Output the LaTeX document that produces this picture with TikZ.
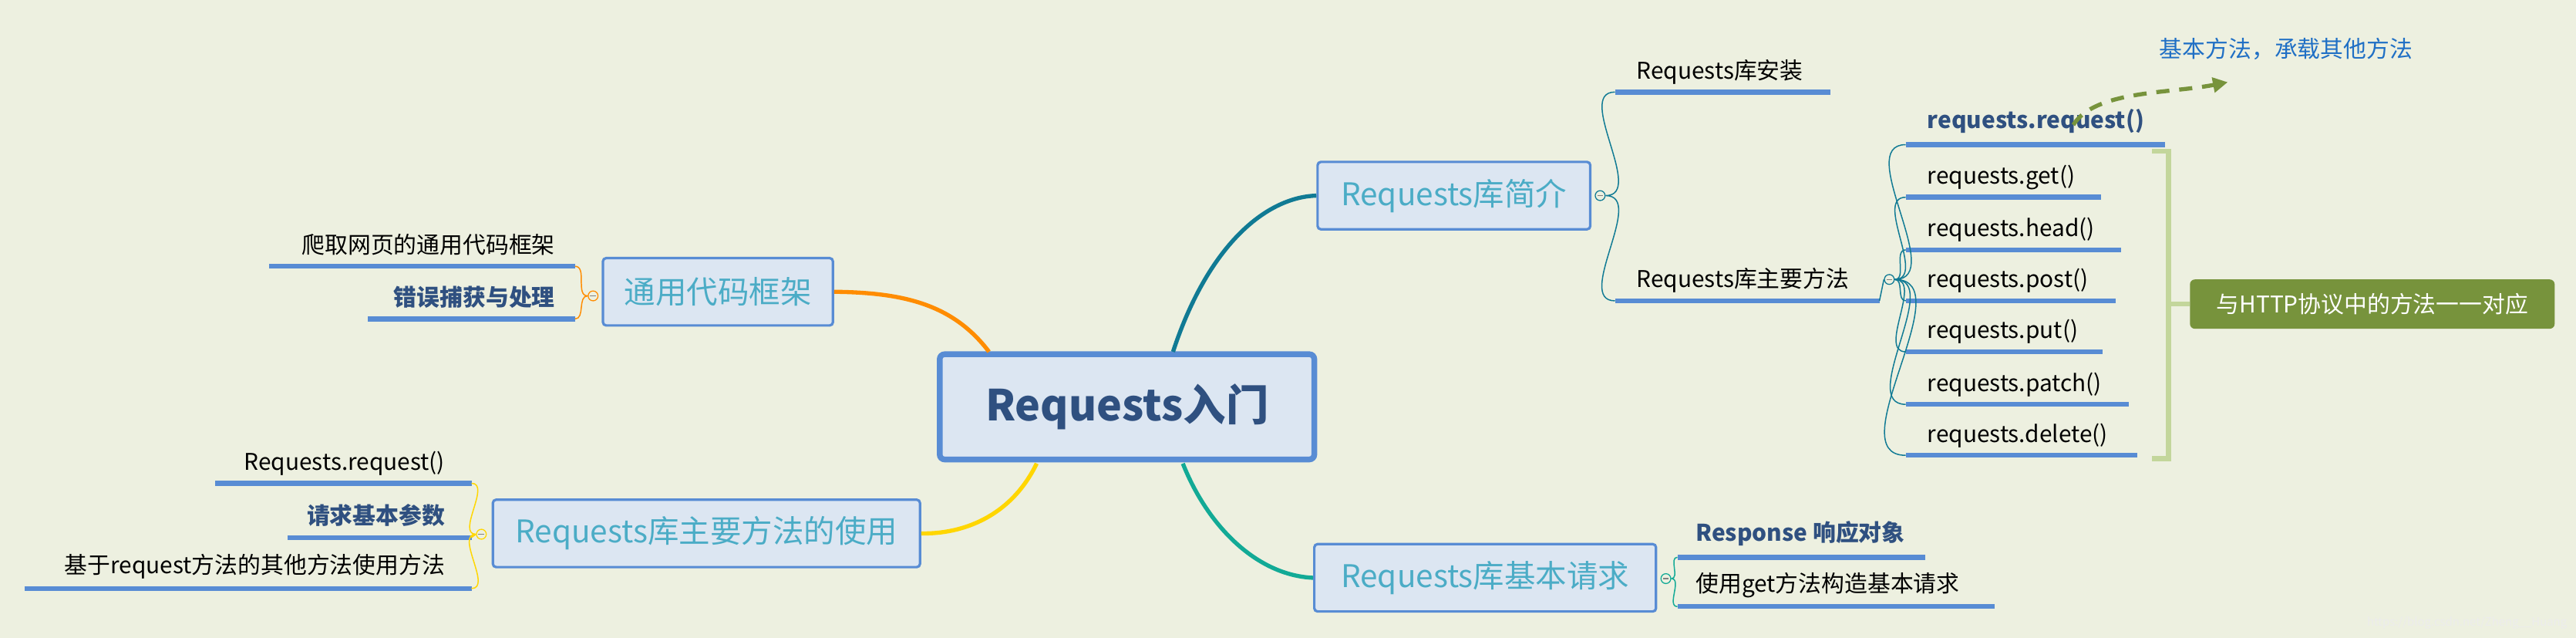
\documentclass[tikz,border=0pt]{standalone}
\usepackage{fontspec}
\setmainfont{Noto Sans CJK SC}
\usetikzlibrary{arrows.meta}
\definecolor{bg}{RGB}{237,240,224}
\definecolor{bline}{RGB}{88,140,212}
\definecolor{bfill}{RGB}{220,230,242}
\definecolor{dblue}{RGB}{47,80,128}
\definecolor{teal1}{RGB}{75,172,198}
\definecolor{cA}{RGB}{255,140,0}
\definecolor{cB}{RGB}{16,122,148}
\definecolor{cC}{RGB}{255,214,0}
\definecolor{cD}{RGB}{18,170,150}
\definecolor{gdark}{RGB}{119,147,60}
\definecolor{glight}{RGB}{195,214,155}
\definecolor{nblue}{RGB}{31,111,197}
\begin{document}
\begin{tikzpicture}[x=1pt,y=-1pt,
  center/.style={draw=bline,line width=3.5pt,fill=bfill,rounded corners=3pt,font=\fontsize{26}{30}\selectfont\bfseries,text=dblue,minimum width=228pt,minimum height=64pt},
  branch/.style={draw=bline,line width=1.5pt,fill=bfill,rounded corners=2pt,font=\fontsize{19}{22}\selectfont,text=teal1,minimum height=41pt,inner xsep=10pt},
  leaf/.style={font=\fontsize{14}{16}\selectfont,text=black,inner sep=0pt},
  bleaf/.style={leaf,font=\fontsize{14}{16}\selectfont\bfseries,text=dblue},
  ul/.style={draw=bline,line width=3pt},
  knob/.style={circle,draw,fill=bg,inner sep=0pt,minimum size=6pt,line width=0.6pt},
]
\fill[bg] (0,0) rectangle (1568,388);
\useasboundingbox (0,0) rectangle (1568,388);

% centre and branches
\node[center] (root) at (686,247.5) {Requests入门};
\node[branch,minimum width=140pt] (b1) at (437,177.5) {通用代码框架};
\node[branch,minimum width=166pt] (b2) at (885,119) {Requests库简介};
\node[branch,minimum width=260pt] (b3) at (430,324.5) {Requests库主要方法的使用};
\node[branch,minimum width=208pt] (b4) at (904,351.5) {Requests库基本请求};

\coordinate (r1) at (602,214); \coordinate (r2) at (714,214);
\coordinate (r3) at (631,282); \coordinate (r4) at (720,282);
\draw[cA,line width=2.5pt] (r1) .. controls (580,185) and (550,178) .. (b1.east);
\draw[cB,line width=2.5pt] (r2) .. controls (735,150) and (770,120) .. (b2.west);
\draw[cC,line width=2.5pt] (r3) .. controls (615,315) and (585,325) .. (b3.east);
\draw[cD,line width=2.5pt] (r4) .. controls (735,320) and (765,350) .. (b4.west);

% knobs
\node[knob,draw=cA] (k1) at (361,180) {};
\node[knob,draw=cB] (k2) at (974,119) {};
\node[knob,draw=cC] (k3) at (293,325) {};
\node[knob,draw=cD] (k4) at (1014,352) {};
\node[knob,draw=cB] (k5) at (1150,170) {};
\foreach \k in {k1,k2,k3,k4,k5}{\draw[gray,line width=0.5pt] ([xshift=-1.8pt]\k.center) -- ([xshift=1.8pt]\k.center);}

% left branch 1 leaves
\coordinate (a1l) at (164,162); \coordinate (a1r) at (350,162);
\coordinate (a2l) at (224,194); \coordinate (a2r) at (350,194);
\draw[ul] (a1l) -- (a1r); \draw[ul] (a2l) -- (a2r);
\node[leaf,anchor=base east] (ta1) at (338,154) {爬取网页的通用代码框架};
\node[bleaf,anchor=base east] (ta2) at (338,186) {错误捕获与处理};
\draw[cA,line width=0.7pt] (k1.west) to[out=180,in=0] (a1r) (k1.west) to[out=180,in=0] (a2r);

% left branch 3 leaves
\coordinate (c1l) at (131,294); \coordinate (c1r) at (287,294);
\coordinate (c2l) at (175,327); \coordinate (c2r) at (287,327);
\coordinate (c3l) at (15,358); \coordinate (c3r) at (287,358);
\draw[ul] (c1l) -- (c1r); \draw[ul] (c2l) -- (c2r); \draw[ul] (c3l) -- (c3r);
\node[leaf,anchor=base east] (tc1) at (271,286) {Requests.request()};
\node[bleaf,anchor=base east] (tc2) at (271,319) {请求基本参数};
\node[leaf,anchor=base east] (tc3) at (271,349) {基于request方法的其他方法使用方法};
\draw[cC,line width=0.7pt] (k3.west) to[out=180,in=0] (c1r) (k3.west) to[out=180,in=0] (c3r) (k3.west) -- (c2r);

% right branch 2 leaves
\coordinate (d1l) at (983,56); \coordinate (d1r) at (1114,56);
\coordinate (d2l) at (983,183); \coordinate (d2r) at (1144,183);
\draw[ul] (d1l) -- (d1r); \draw[ul] (d2l) -- (d2r);
\node[leaf,anchor=base west] (td1) at (996,48) {Requests库安装};
\node[leaf,anchor=base west] (td2) at (996,175) {Requests库主要方法};
\draw[cB,line width=0.7pt] (k2.east) to[out=0,in=180] (d1l) (k2.east) to[out=0,in=180] (d2l);
\draw[cB,line width=0.7pt] (d2r) -- (k5.west);

% methods
\foreach \n/\y/\r/\t in {m2/120/1279/requests.get(),m3/152/1291/requests.head(),m4/183/1288/requests.post(),m5/214/1280/requests.put(),m6/246/1296/requests.patch(),m7/277/1301/requests.delete()}{
  \coordinate (\n l) at (1160,\y); \coordinate (\n r) at (\r,\y);
  \draw[ul] (\n l) -- (\n r);
  \node[leaf,anchor=base west] (t\n) at (1173,\y-8) {\t};
  \draw[cB,line width=0.7pt] (k5.east) to[out=0,in=180] (\n l);
}
\coordinate (m1l) at (1160,88); \coordinate (m1r) at (1318,88);
\draw[ul] (m1l) -- (m1r);
\node[bleaf,anchor=base west] (tm1) at (1173,78) {requests.request()};
\draw[cB,line width=0.7pt] (k5.east) to[out=0,in=180] (m1l);

% bracket and label
\coordinate (br1) at (1310,92); \coordinate (br2) at (1310,279);
\draw[glight,line width=3pt] (br1) -- (1320,92) -- (1320,279) -- (br2);
\coordinate (brm) at (1320,185);
\node[fill=gdark,rounded corners=3pt,text=white,font=\fontsize{14}{16}\selectfont\itshape,minimum width=222pt,minimum height=30pt] (lab) at (1444,185) {与HTTP协议中的方法一一对应};
\draw[glight,line width=3pt] (brm) -- (lab.west);

% dashed arrow note
\coordinate (as) at (1262,76);
\node[font=\fontsize{14}{16}\selectfont,text=nblue,anchor=base west] (note) at (1311,35) {基本方法，承载其他方法};
\coordinate (ae) at (1356,50);
\draw[gdark,line width=2.5pt,dash pattern=on 8pt off 6pt,-{Triangle[length=9pt,width=9pt]}] (as) .. controls (1275,55) and (1320,57) .. (ae);

% branch 4 leaves
\coordinate (e1l) at (1021,339); \coordinate (e1r) at (1172,339);
\coordinate (e2l) at (1021,369); \coordinate (e2r) at (1214,369);
\draw[ul] (e1l) -- (e1r); \draw[ul] (e2l) -- (e2r);
\node[bleaf,anchor=base west] (te1) at (1032,329) {Response 响应对象};
\node[leaf,anchor=base west] (te2) at (1032,360) {使用get方法构造基本请求};
\draw[cD,line width=0.7pt] (k4.east) to[out=0,in=180] (e1l) (k4.east) to[out=0,in=180] (e2l);

\node[font=\fontsize{7}{8}\selectfont,text=white!85!gray,anchor=south east] (wm) at (1566,386) {https://blog.csdn.net/Zheng\_\_Huang};
\end{tikzpicture}
\end{document}
